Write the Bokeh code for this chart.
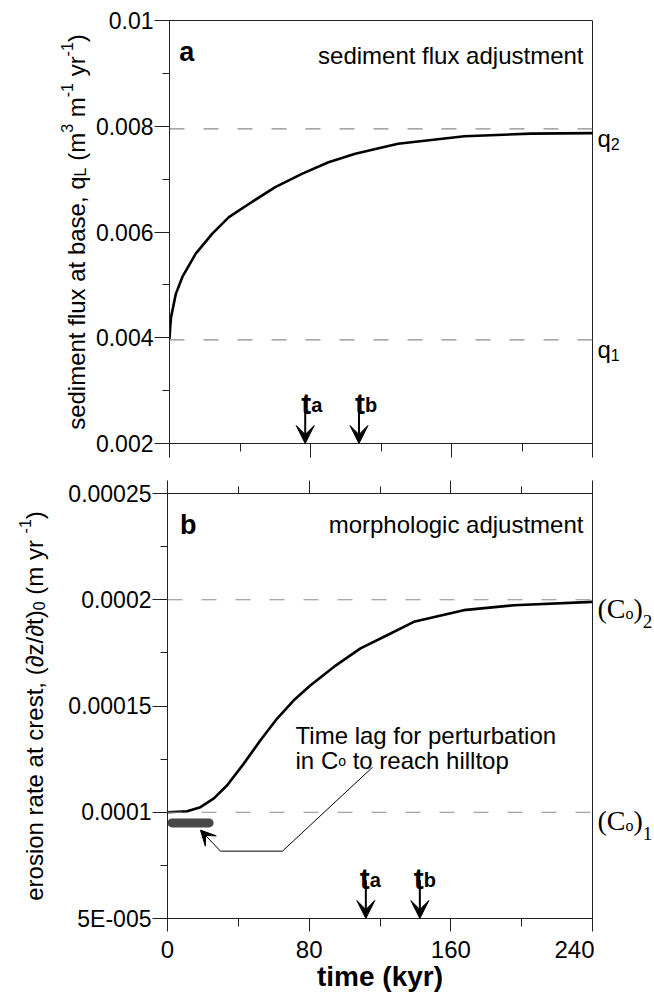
import math
from bokeh.plotting import figure
from bokeh.models import Range1d, FixedTicker, LinearAxis, Span, Label, Arrow, VeeHead
from bokeh.layouts import column, row
from bokeh.embed import file_html
from bokeh.resources import INLINE

# ---------------- data ----------------
time_a = [0, 0.4, 0.9, 3.6, 7.3, 14.9, 24.3, 33.7, 45, 60, 75.1, 90.2, 105.4,
          119.3, 129.7, 167.3, 205, 240]
flux_a = [0.00398, 0.0042, 0.00439, 0.00483, 0.00515, 0.00559, 0.00597, 0.00628,
          0.00653, 0.00685, 0.0071, 0.00732, 0.00748, 0.00759, 0.00767, 0.00781,
          0.00786, 0.00787]

time_b = [0, 11.1, 18.6, 26.2, 33.7, 43.1, 52.5, 61.9, 71.3, 80.8, 93.9, 109,
          124, 139.1, 167.3, 195.6, 240]
erosion_b = [0.0001, 0.0001005, 0.0001024, 0.0001065, 0.0001127, 0.0001229,
             0.0001339, 0.0001441, 0.0001527, 0.0001598, 0.0001684, 0.0001771,
             0.0001833, 0.0001896, 0.0001951, 0.0001974, 0.000199]

x_ticks = [0, 80, 160, 240]
x_tick_labels = ["0", "80", "160", "240"]
x_minor = [40, 120, 200]

a_ticks = [0.002, 0.004, 0.006, 0.008, 0.01]
a_tick_labels = ["0.002", "0.004", "0.006", "0.008", "0.01"]
a_minor = [0.003, 0.005, 0.007, 0.009]

b_ticks = [0.00005, 0.0001, 0.00015, 0.0002, 0.00025]
b_tick_labels = ["5E-005", "0.0001", "0.00015", "0.0002", "0.00025"]
b_minor = [0.000075, 0.000125, 0.000175, 0.000225]

q_levels = [0.00396, 0.00795]        # q1, q2
c_levels = [0.0001, 0.0002]          # (Co)1, (Co)2

t_marks_a = [77.0, 107.5]            # ta, tb in panel a
t_marks_b = [112.0, 142.5]           # ta, tb in panel b
t_arrow_a = [0.00272, 0.002]         # arrow top / tip, panel a
t_arrow_b = [0.000068, 0.00005]      # arrow top / tip, panel b

lag_bar_x = [2.5, 23.5]
lag_bar_y = [0.000095, 0.000095]
leader_x = [115.8, 64.9, 29.9]
leader_y = [0.0001212, 0.0000817, 0.0000817]
leader_tip = (18.6, 0.0000916)

# ---------------- helpers ----------------
SANS = "Liberation Sans"
SERIF = "Liberation Serif"
AR = {' ': 278, '(': 333, ')': 333, ',': 278, '-': 333, '.': 278, '/': 278,
      'a': 556, 'b': 556, 'c': 500, 'd': 556, 'e': 556, 'f': 278, 'g': 556,
      'h': 556, 'i': 222, 'j': 222, 'k': 500, 'l': 222, 'm': 833, 'n': 556,
      'o': 556, 'p': 556, 'q': 556, 'r': 333, 's': 500, 't': 278, 'u': 556,
      'v': 500, 'w': 722, 'x': 500, 'y': 500, 'z': 500, 'C': 722, 'L': 556,
      'T': 611, '\u2202': 494}
TNR = {'(': 333, ')': 333, 'C': 667, 'o': 500, '1': 500, '2': 500}
ARB = {'t': 333, 'a': 556}


def width(s, size, table):
    return sum(table.get(c, 556) for c in s) / 1000.0 * size


def run(p, x, y, pieces, angle=0.0, start=0.0, dx0=0.0, dy0=0.0):
    """pieces: (text, size, rise, font, style, table); spaces become offsets"""
    pos = start
    for txt, size, rise, fnt, sty, table in pieces:
        lead = len(txt) - len(txt.lstrip(' '))
        pos += width(' ' * lead, size, table)
        core = txt.strip(' ')
        if core:
            if angle == 0.0:
                xo, yo = dx0 + pos, dy0 + rise
            else:
                xo, yo = dx0 - rise, dy0 + pos
            p.add_layout(Label(x=x, y=y, x_offset=xo, y_offset=yo, text=core,
                               angle=angle, text_font=fnt, text_font_size=f"{size}px",
                               text_font_style=sty, text_align="left",
                               text_baseline="alphabetic", text_color="black"))
        pos += width(txt.lstrip(' '), size, table)
    return pos


def total(pieces):
    return sum(width(t, s, tb) for t, s, r, f, st, tb in pieces)


def style_axis(ax, tick_out, minor_out, font_size, standoff):
    ax.axis_line_color = "#222222"
    ax.axis_line_width = 1
    ax.major_tick_line_color = "#222222"
    ax.minor_tick_line_color = "#222222"
    ax.major_tick_in = 0
    ax.major_tick_out = tick_out
    ax.minor_tick_in = 0
    ax.minor_tick_out = minor_out
    ax.major_label_text_font = SANS
    ax.major_label_text_font_size = font_size
    ax.major_label_text_color = "black"
    ax.major_label_standoff = standoff


def make_fig(w, height, yr, left, top, bottom):
    p = figure(width=w, height=height, x_range=Range1d(0, 240), y_range=Range1d(*yr),
               output_backend="svg", toolbar_location=None,
               min_border_left=left, min_border_right=2,
               min_border_top=top, min_border_bottom=bottom)
    p.grid.visible = False
    p.outline_line_color = "#222222"
    p.outline_line_width = 1
    p.background_fill_color = "white"
    p.border_fill_color = "white"
    return p


def side_fig(w, height, yr, top, bottom):
    p = figure(width=w, height=height, x_range=Range1d(0, w), y_range=Range1d(*yr),
               output_backend="svg", toolbar_location=None,
               x_axis_type=None, y_axis_type=None,
               min_border_left=0, min_border_right=0,
               min_border_top=top, min_border_bottom=bottom)
    p.outline_line_color = None
    p.background_fill_color = "white"
    p.border_fill_color = "white"
    return p


def text(p, x, y, s, size, style="normal", align="left"):
    p.add_layout(Label(x=x, y=y, text=s, text_font=SANS, text_font_size=f"{size}px",
                       text_font_style=style, text_align=align,
                       text_baseline="alphabetic", text_color="black"))


# ---------------- panel a ----------------
LA, HA, YA = 92, 460, (0.002, 0.01)
pa = make_fig(654 - LA - 60, HA, YA, 167 - LA, 20, 17)
pa.xaxis.ticker = FixedTicker(ticks=x_ticks, minor_ticks=x_minor)
style_axis(pa.xaxis[0], 14, 8, "0px", 0)
pa.xaxis.major_label_overrides = {t: "" for t in x_ticks}
pa.yaxis.ticker = FixedTicker(ticks=a_ticks, minor_ticks=a_minor)
pa.yaxis.major_label_overrides = dict(zip(a_ticks, a_tick_labels))
style_axis(pa.yaxis[0], 15, 7, "23px", 1)

for lv in q_levels:
    pa.add_layout(Span(location=lv, dimension="width", line_color="#8c8c8c",
                       line_width=1.2, line_dash="15 19"))
pa.line(time_a, flux_a, line_color="black", line_width=2.6, line_join="round")

for t in t_marks_a:
    pa.add_layout(Arrow(end=VeeHead(size=18, fill_color="black", line_color="black"),
                        x_start=t, y_start=t_arrow_a[0], x_end=t, y_end=t_arrow_a[1],
                        line_width=2, line_color="black"))
for t, sub in zip(t_marks_a, ["a", "b"]):
    run(pa, t, t_arrow_a[0], [("t", 30, 0, SANS, "bold", ARB),
                              (sub, 20, -2, SANS, "bold", ARB)],
        dx0=-width("t", 30, ARB) / 2 + 1, dy0=2)

text(pa, 5.5, 0.0094, "a", 27, "bold")
text(pa, 234.9, 0.00934, "sediment flux adjustment", 24, align="right")

la = side_fig(LA, HA, YA, 20, 17)
lab_a = [("sediment flux at base, q", 24, 0, SANS, "normal", AR),
         ("L", 16, -4, SANS, "normal", AR),
         (" (m", 24, 0, SANS, "normal", AR),
         ("3", 16, 10, SANS, "normal", AR),
         (" m", 24, 0, SANS, "normal", AR),
         ("-1", 16, 10, SANS, "normal", AR),
         (" yr", 24, 0, SANS, "normal", AR),
         ("-1", 16, 10, SANS, "normal", AR),
         (")", 24, 0, SANS, "normal", AR)]
run(la, 76, sum(YA) / 2, lab_a, angle=math.pi / 2, start=-total(lab_a) / 2)

ra = side_fig(60, HA, YA, 20, 17)
for lv, sub in zip(q_levels, ["1", "2"]):
    run(ra, 3, lv, [("q", 24, 0, SANS, "normal", AR),
                    (sub, 16, -5, SANS, "normal", AR)], dy0=-10)

# ---------------- panel b ----------------
LB, HB, YB = 50, 540, (0.00005, 0.00025)
pb = make_fig(654 - LB - 60, HB, YB, 167 - LB, 33, 82)
pb.xaxis.ticker = FixedTicker(ticks=x_ticks, minor_ticks=x_minor)
pb.xaxis.major_label_overrides = dict(zip(x_ticks, x_tick_labels))
style_axis(pb.xaxis[0], 13, 8, "24px", 9)
pb.xaxis.axis_label = "time (kyr)"
pb.xaxis.axis_label_text_font = SANS
pb.xaxis.axis_label_text_font_size = "28px"
pb.xaxis.axis_label_text_font_style = "bold"
pb.xaxis.axis_label_text_color = "black"
pb.xaxis.axis_label_standoff = 0
top_ax = LinearAxis(ticker=FixedTicker(ticks=x_ticks, minor_ticks=x_minor))
style_axis(top_ax, 13, 7, "0px", 0)
top_ax.major_label_overrides = {t: "" for t in x_ticks}
pb.add_layout(top_ax, "above")
pb.yaxis.ticker = FixedTicker(ticks=b_ticks, minor_ticks=b_minor)
pb.yaxis.major_label_overrides = dict(zip(b_ticks, b_tick_labels))
style_axis(pb.yaxis[0], 15, 7, "23px", 1)

for lv in c_levels:
    pb.add_layout(Span(location=lv, dimension="width", line_color="#8c8c8c",
                       line_width=1.2, line_dash="15 19"))
pb.line(time_b, erosion_b, line_color="black", line_width=2.6, line_join="round")

pb.line(lag_bar_x, lag_bar_y, line_color="#474747", line_width=9, line_cap="round")
pb.line(leader_x, leader_y, line_color="black", line_width=1)
pb.add_layout(Arrow(end=VeeHead(size=15, fill_color="black", line_color="black"),
                    x_start=leader_x[-1], y_start=leader_y[-1],
                    x_end=leader_tip[0], y_end=leader_tip[1],
                    line_width=1, line_color="black"))

for t in t_marks_b:
    pb.add_layout(Arrow(end=VeeHead(size=18, fill_color="black", line_color="black"),
                        x_start=t, y_start=t_arrow_b[0], x_end=t, y_end=t_arrow_b[1],
                        line_width=2, line_color="black"))
for t, sub in zip(t_marks_b, ["a", "b"]):
    run(pb, t, t_arrow_b[0], [("t", 30, 0, SANS, "bold", ARB),
                              (sub, 20, -2, SANS, "bold", ARB)],
        dx0=-width("t", 30, ARB) / 2 - 1, dy0=2)

text(pb, 7, 0.000235, "b", 27, "bold")
text(pb, 234.9, 0.0002356, "morphologic adjustment", 24, align="right")
text(pb, 72.3, 0.0001362, "Time lag for perturbation", 24)
run(pb, 72.3, 0.0001244, [("in C", 24, 0, SANS, "normal", AR),
                          ("o", 14, -1, SANS, "normal", AR),
                          (" to reach hilltop", 24, 0, SANS, "normal", AR)])

lb = side_fig(LB, HB, YB, 33, 82)
lab_b = [("erosion rate at crest, (\u2202z/\u2202t)", 24, 0, SANS, "normal", AR),
         ("0", 16, -4, SANS, "normal", AR),
         (" (m yr ", 24, 0, SANS, "normal", AR),
         ("-1", 16, 10, SANS, "normal", AR),
         (")", 24, 0, SANS, "normal", AR)]
run(lb, 34, sum(YB) / 2, lab_b, angle=math.pi / 2, start=-total(lab_b) / 2)

rb = side_fig(60, HB, YB, 33, 82)
for lv, sub in zip(c_levels, ["1", "2"]):
    run(rb, 3, lv, [("(C", 28, 0, SERIF, "normal", TNR),
                    ("o", 16, -5, SERIF, "normal", TNR),
                    (")", 28, 0, SERIF, "normal", TNR),
                    (sub, 19, -13, SERIF, "normal", TNR)], dy0=-8.5)

layout = column(row(la, pa, ra, spacing=0), row(lb, pb, rb, spacing=0), spacing=0)
open("out.html", "w").write(file_html(layout, INLINE))
